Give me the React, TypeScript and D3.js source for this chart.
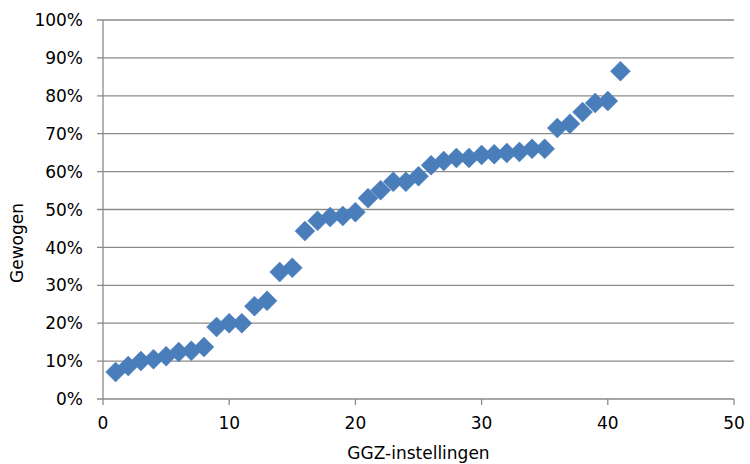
import React from "react";
import * as d3 from "d3";

const xValues = [1,2,3,4,5,6,7,8,9,10,11,12,13,14,15,16,17,18,19,20,21,22,23,24,25,26,27,28,29,30,31,32,33,34,35,36,37,38,39,40,41];
const yValues = [0.071,0.087,0.100,0.105,0.113,0.124,0.127,0.137,0.190,0.200,0.200,0.245,0.259,0.335,0.346,0.443,0.470,0.480,0.483,0.493,0.530,0.551,0.573,0.573,0.588,0.617,0.628,0.636,0.636,0.644,0.646,0.649,0.652,0.660,0.660,0.715,0.726,0.757,0.781,0.786,0.865];
const xTicks = [0,10,20,30,40,50];
const yTicks = [0,0.1,0.2,0.3,0.4,0.5,0.6,0.7,0.8,0.9,1.0];
const xTitle = "GGZ-instellingen";
const yTitle = "Gewogen";

export default function App() {
  const W = 750, H = 464;
  const left = 103, right = 734, top = 20, bottom = 399;
  const x = d3.scaleLinear().domain([0, 50]).range([left, right]);
  const y = d3.scaleLinear().domain([0, 1]).range([bottom, top]);
  const font = "'DejaVu Sans', Verdana, sans-serif";
  const grid = "#8a8a8a";
  const r = 10;
  const fs = 17;
  return (
    <svg width={W} height={H} style={{ position: "absolute", left: 0, top: 0 }} fontFamily={font}>
      <rect width={W} height={H} fill="#fff" />
      {yTicks.map((t) => (
        <g key={t}>
          <line x1={left - 6} x2={right} y1={y(t)} y2={y(t)} stroke={grid} strokeWidth={1.3} />
          <text x={left - 20} y={y(t)} dy="0.36em" textAnchor="end" fontSize={fs} fill="#000">
            {d3.format(".0%")(t)}
          </text>
        </g>
      ))}
      <line x1={left} x2={left} y1={top} y2={bottom} stroke={grid} strokeWidth={1.3} />
      {xTicks.map((t) => (
        <g key={t}>
          <line x1={x(t)} x2={x(t)} y1={bottom} y2={bottom + 6} stroke={grid} strokeWidth={1.3} />
          <text x={x(t)} y={bottom + 30} textAnchor="middle" fontSize={fs} fill="#000">{t}</text>
        </g>
      ))}
      <text x={(left + right) / 2} y={459} textAnchor="middle" fontSize={fs} fill="#000">{xTitle}</text>
      <text transform={`translate(23,243) rotate(-90)`} textAnchor="middle" fontSize={fs} fill="#000">{yTitle}</text>
      {xValues.map((xv, i) => {
        const cx = x(xv), cy = y(yValues[i]);
        return (
          <path key={i} d={`M${cx},${cy - r}L${cx + r},${cy}L${cx},${cy + r}L${cx - r},${cy}Z`} fill="#4a7ebb" stroke="#4a7ebb" strokeWidth={0.5} />
        );
      })}
    </svg>
  );
}
